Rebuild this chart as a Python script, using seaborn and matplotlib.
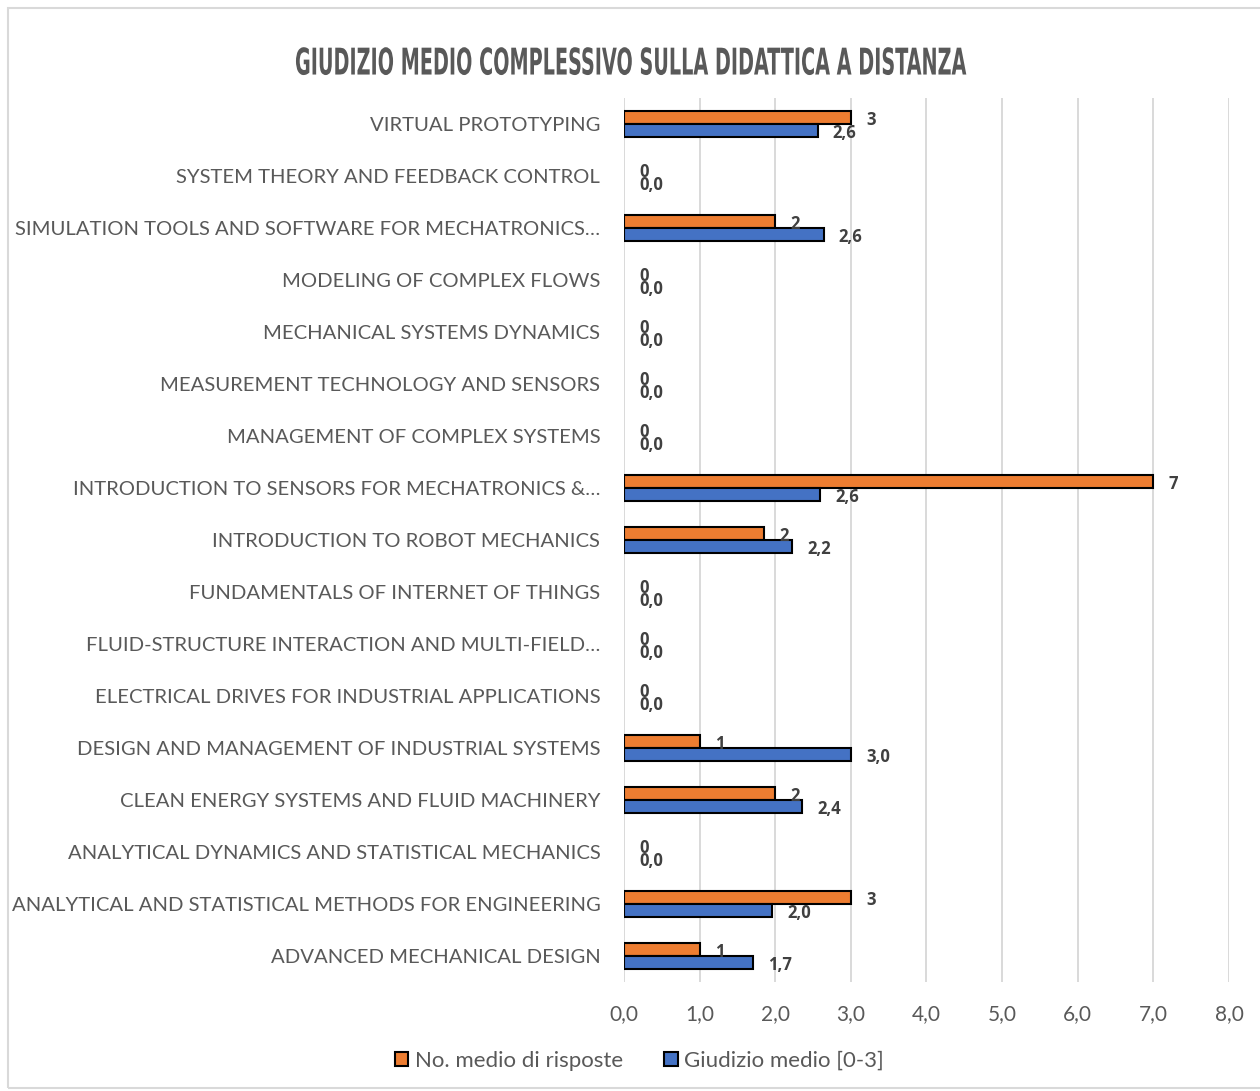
import matplotlib
matplotlib.use("Agg")
import matplotlib.pyplot as plt
from matplotlib.patches import Rectangle, Patch
from matplotlib.transforms import Affine2D
from matplotlib import font_manager as fm
import matplotlib.patheffects as pe
import seaborn as sns
import pandas as pd

courses = [
    "VIRTUAL PROTOTYPING",
    "SYSTEM THEORY AND FEEDBACK CONTROL",
    "SIMULATION TOOLS AND SOFTWARE FOR MECHATRONICS…",
    "MODELING OF COMPLEX FLOWS",
    "MECHANICAL SYSTEMS DYNAMICS",
    "MEASUREMENT TECHNOLOGY AND SENSORS",
    "MANAGEMENT OF COMPLEX SYSTEMS",
    "INTRODUCTION TO SENSORS FOR MECHATRONICS &…",
    "INTRODUCTION TO ROBOT MECHANICS",
    "FUNDAMENTALS OF INTERNET OF THINGS",
    "FLUID-STRUCTURE INTERACTION AND MULTI-FIELD…",
    "ELECTRICAL DRIVES FOR INDUSTRIAL APPLICATIONS",
    "DESIGN AND MANAGEMENT OF INDUSTRIAL SYSTEMS",
    "CLEAN ENERGY SYSTEMS AND FLUID MACHINERY",
    "ANALYTICAL DYNAMICS AND STATISTICAL MECHANICS",
    "ANALYTICAL AND STATISTICAL METHODS FOR ENGINEERING",
    "ADVANCED MECHANICAL DESIGN",
]
n_risposte = [3, 0, 2, 0, 0, 0, 0, 7, 1.85, 0, 0, 0, 1, 2, 0, 3, 1]
giudizio = [2.56, 0, 2.64, 0, 0, 0, 0, 2.59, 2.22, 0, 0, 0, 3.0, 2.35, 0, 1.96, 1.70]
series_names = ["No. medio di risposte", "Giudizio medio [0-3]"]
colors = ["#ED7D31", "#4472C4"]
x_ticks = [0, 1, 2, 3, 4, 5, 6, 7, 8]
title = "GIUDIZIO MEDIO COMPLESSIVO SULLA DIDATTICA A DISTANZA"


class HorizontalSqueeze(pe.AbstractPathEffect):
    """Draw text glyphs compressed horizontally about a fixed x (display px)."""

    def __init__(self, sx, cx):
        super().__init__()
        self.sx = sx
        self.cx = cx

    def draw_path(self, renderer, gc, tpath, affine, rgbFace=None):
        squeeze = Affine2D().translate(-self.cx, 0).scale(self.sx, 1).translate(self.cx, 0)
        renderer.draw_path(gc, tpath, affine + squeeze, rgbFace)


df = pd.DataFrame({
    "corso": courses * 2,
    "valore": n_risposte + giudizio,
    "serie": [series_names[0]] * len(courses) + [series_names[1]] * len(courses),
})

sns.set_theme(style="white")
plt.rcParams["font.family"] = ["Lato", "DejaVu Sans"]

fig = plt.figure(figsize=(12.6, 10.91), dpi=100)
ax = fig.add_axes([0.4952, 0.0999, 0.4802, 0.8103])

sns.barplot(data=df, x="valore", y="corso", hue="serie", orient="h",
            palette=colors, width=0.5, edgecolor="black", linewidth=1.5,
            ax=ax, legend=False, saturation=1)

# zero-length bars should leave no outline stub at the axis
for patch in ax.patches:
    if patch.get_width() == 0:
        patch.set_linewidth(0)

label_color = "#404040"
fmts = [lambda v: f"{v:.0f}", lambda v: f"{v:.1f}".replace(".", ",")]
vals = [n_risposte, giudizio]
for cont, fmt, vv in zip(ax.containers, fmts, vals):
    anns = ax.bar_label(cont, labels=[fmt(v) for v in vv], padding=11,
                        fontsize=12, fontweight="bold", color=label_color,
                        family=["Open Sans", "DejaVu Sans"])
    for a in anns:
        a.xyann = (a.xyann[0], a.xyann[1] - 2)

ax.set_xlim(0, 8)
ax.set_xticks(x_ticks)
ax.set_xticklabels([f"{t:.1f}".replace(".", ",") for t in x_ticks],
                   fontsize=15, color="#595959")
ax.tick_params(axis="y", labelsize=14.6, labelcolor="#595959", length=0, pad=17)
ax.tick_params(axis="x", length=0, pad=16)
ax.set_xlabel("")
ax.set_ylabel("")
ax.grid(axis="x", color="#d9d9d9", linewidth=1.4)
ax.grid(axis="y", visible=False)
ax.set_axisbelow(True)
for s in ax.spines.values():
    s.set_visible(False)

# tall, tightly condensed bold title (prefer a condensed face as the base)
title_fp = fm.FontProperties(family="DejaVu Sans", weight="bold")
for f in fm.fontManager.ttflist:
    narrow = ("Narrow" in f.name) or ("Condensed" in f.name) or (f.stretch in ("condensed", "semi-condensed"))
    if narrow and f.weight in ("bold", 700):
        title_fp = fm.FontProperties(fname=f.fname)
        break
fig_w_px = fig.get_figwidth() * fig.dpi
title_txt = fig.text(0.5, 0.9413, title, ha="center", va="center",
                     fontproperties=title_fp, fontsize=27.5, color="#595959")
fig.canvas.draw()
w = title_txt.get_window_extent().width
if w > 0.92 * fig_w_px:
    title_txt.set_fontsize(27.5 * 0.92 * fig_w_px / w)
    fig.canvas.draw()
    w = title_txt.get_window_extent().width
title_txt.set_path_effects([HorizontalSqueeze(670 / w, fig_w_px / 2)])

handles = [Patch(facecolor=c, edgecolor="black", linewidth=1.5) for c in colors]
fig.legend(handles, series_names, loc="center", bbox_to_anchor=(0.5075, 0.0277),
           ncol=2, frameon=False, fontsize=16, handlelength=0.6,
           handleheight=0.6, handletextpad=0.3, columnspacing=1.85,
           labelcolor="#595959")

fig.patches.append(Rectangle((0.0065, 0.003), 1.2, 0.99, transform=fig.transFigure,
                             fill=False, edgecolor="#d9d9d9", linewidth=1.5))

fig.savefig("out.png", dpi=100)
